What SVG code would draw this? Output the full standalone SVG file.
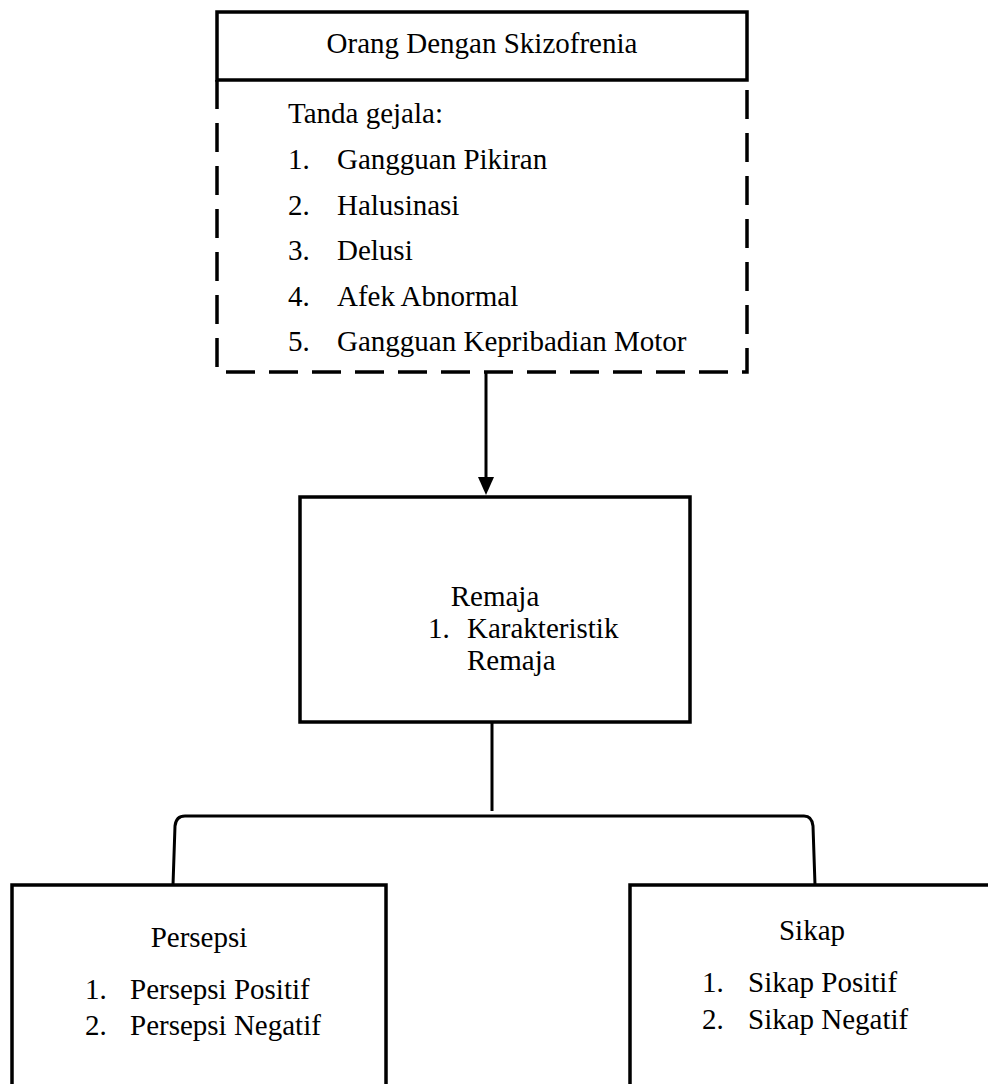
<svg xmlns="http://www.w3.org/2000/svg" width="988" height="1084" viewBox="0 0 988 1084">
<style>
text{font-family:"Liberation Serif","Times New Roman",serif;font-size:29px;fill:#000}
.box{fill:none;stroke:#000;stroke-width:3.5}
.dash{fill:none;stroke:#000;stroke-width:3.5;stroke-dasharray:29 14}
.conn{fill:none;stroke:#000;stroke-width:3}
.mid{text-anchor:middle}
</style>
<rect width="988" height="1084" fill="#fff"/>
<g id="odsk">
<rect class="box" x="217" y="12" width="530" height="68"/>
<path class="dash" d="M217,80 V372 H747 V80"/>
<text class="mid" x="482" y="53">Orang Dengan Skizofrenia</text>
<text x="288" y="123">Tanda gejala:</text>
<text x="288" y="169">1.</text><text x="337" y="169">Gangguan Pikiran</text>
<text x="288" y="215">2.</text><text x="337" y="215">Halusinasi</text>
<text x="288" y="260">3.</text><text x="337" y="260">Delusi</text>
<text x="288" y="306">4.</text><text x="337" y="306">Afek Abnormal</text>
<text x="288" y="351">5.</text><text x="337" y="351">Gangguan Kepribadian Motor</text>
</g>
<g id="remaja">
<rect class="box" x="300" y="497" width="390" height="225"/>
<text class="mid" x="495" y="606">Remaja</text>
<text x="428" y="638">1.</text><text x="467" y="638">Karakteristik</text>
<text x="467" y="670">Remaja</text>
</g>
<g id="persepsi">
<rect class="box" x="12" y="885" width="374" height="210"/>
<text class="mid" x="199" y="947">Persepsi</text>
<text x="85" y="999">1.</text><text x="130" y="999">Persepsi Positif</text>
<text x="85" y="1035">2.</text><text x="130" y="1035">Persepsi Negatif</text>
</g>
<g id="sikap">
<rect class="box" x="630" y="885" width="380" height="210"/>
<text class="mid" x="812" y="940">Sikap</text>
<text x="702" y="992">1.</text><text x="748" y="992">Sikap Positif</text>
<text x="702" y="1029">2.</text><text x="748" y="1029">Sikap Negatif</text>
</g>
<g id="connectors">
<line class="conn" x1="486" y1="372" x2="486" y2="478"/>
<path d="M478,477 L494,477 L486,495 Z" fill="#000"/>
<line class="conn" x1="492" y1="722" x2="492" y2="811"/>
<path class="conn" d="M173,885 L175,826 Q176,816 185,816 L804,816 Q812,816 813,826 L815,885"/>
</g>
</svg>
